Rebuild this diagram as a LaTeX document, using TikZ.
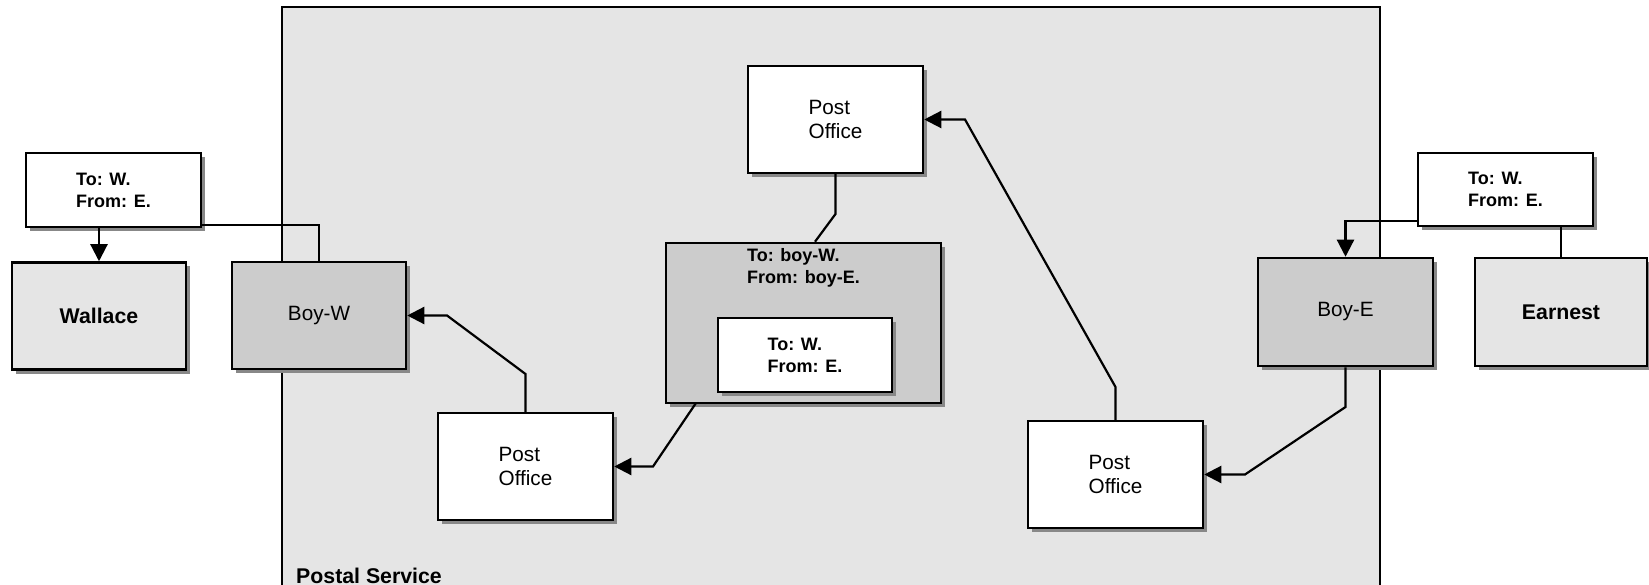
\documentclass[tikz,border=0pt]{standalone}
\usepackage{fontspec}
\setmainfont{Liberation Sans}
\usetikzlibrary{arrows.meta,shadows}
\definecolor{svcbg}{HTML}{E5E5E5}
\definecolor{boyfill}{HTML}{CCCCCC}
\definecolor{shadowgray}{HTML}{888888}
\tikzset{
  box/.style={draw=black, line width=2.5pt, inner sep=0pt, align=left,
    drop shadow={shadow xshift=4pt, shadow yshift=-4pt, fill=shadowgray, opacity=1}},
  regtext/.style={font=\fontsize{20.7}{24}\selectfont},
  boldtext/.style={font=\fontsize{21.3}{25}\selectfont\bfseries},
  lettertext/.style={font=\fontsize{18}{22}\selectfont\bfseries},
  letterbox/.style={box, fill=white, lettertext, minimum width=175pt, minimum height=74pt},
  officebox/.style={box, fill=white, regtext, minimum width=175pt, minimum height=107pt},
  boybox/.style={box, fill=boyfill, regtext, minimum width=174pt, minimum height=107pt},
  personbox/.style={box, fill=svcbg, boldtext, minimum width=174pt, minimum height=107pt},
  link/.style={draw=black, line width=2.2pt},
  arr/.style={link, -{Triangle[length=17pt,width=17pt]}},
}
\begin{document}
\begin{tikzpicture}[x=1pt, y=-1pt]
\useasboundingbox (0,0) rectangle (1649,585);
% postal service region
\begin{scope}
\clip (0,0) rectangle (1649,585);
\draw[line width=2.5pt, fill=svcbg] (282,7) rectangle (1380,600);
\end{scope}
\node[boldtext, anchor=base west, inner sep=0pt] (svc) at (296,583) {Postal Service};

% nodes
\node[letterbox] (letW) at (113.5,190) {To: W.\\From: E.};
\node[personbox] (wallace) at (99,316) {Wallace};
\node[boybox] (boyW) at (319,315.5) {Boy-W};
\node[officebox] (po1) at (835.5,119.5) {Post\\Office};
\node[box, fill=boyfill, minimum width=275pt, minimum height=160pt] (env) at (803.5,323) {};
\node[lettertext, anchor=north, inner sep=0pt, align=left] (envtext) at (803.5,248) {To: boy-W.\\From: boy-E.};
\node[letterbox, minimum width=174pt] (inner) at (805,355) {To: W.\\From: E.};
\node[officebox] (po2) at (525.5,466.5) {Post\\Office};
\node[officebox] (po3) at (1115.5,474.5) {Post\\Office};
\node[boybox, minimum width=175pt, minimum height=108pt] (boyE) at (1345.5,312) {Boy-E};
\node[personbox, minimum width=172pt, minimum height=108pt] (earnest) at (1561,312) {Earnest};
\node[letterbox, minimum height=73pt] (letE) at (1505.5,189.5) {To: W.\\From: E.};

% bend points
\coordinate (b1) at (835.5,214);
\coordinate (b2) at (696,403);
\coordinate (b3) at (653,466.5);
\coordinate (b4) at (525.5,374);
\coordinate (b5) at (447,315.5);
\coordinate (b6) at (1345.5,407);
\coordinate (b7) at (1245,474.5);
\coordinate (b8) at (1115.5,387);
\coordinate (b9) at (965,119.5);

% connectors
\draw[arr] (wallace.north |- letW.south) -- (wallace.north);
\draw[link] ([yshift=3pt]letW.south east) -| (boyW.north);
\draw[link] (po1.south) -- (b1) -- (env.north -| 815,0);
\draw[arr] (b2) -- (b3) -- (po2.east);
\draw[arr] (po2.north) -- (b4) -- (b5) -- (boyW.east);
\draw[arr] (boyE.south) -- (b6) -- (b7) -- (po3.east);
\draw[arr] (po3.north) -- (b8) -- (b9) -- (po1.east);
\draw[arr] ([yshift=6pt]letE.south west) -| (boyE.north);
\draw[link] (earnest.north |- letE.south) -- (earnest.north);
\end{tikzpicture}
\end{document}
